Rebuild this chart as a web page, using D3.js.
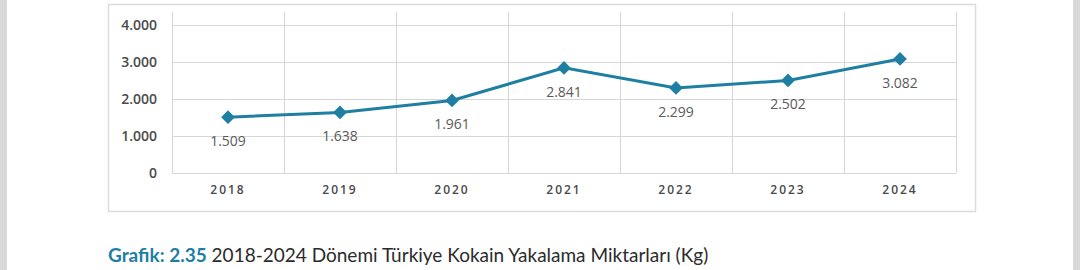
<!DOCTYPE html>
<html>
<head>
<meta charset="utf-8">
<script src="https://cdn.jsdelivr.net/npm/d3@7"></script>
<style>
  html, body { margin: 0; padding: 0; background: #fff; }
  body { width: 1080px; height: 270px; overflow: hidden; }
</style>
</head>
<body>
<svg id="chart"></svg>
<script>
const years = ["2018", "2019", "2020", "2021", "2022", "2023", "2024"];
const seizures = [1509, 1638, 1961, 2841, 2299, 2502, 3082];
const yTicks = [0, 1000, 2000, 3000, 4000];

const width = 1080;
const height = 270;
const margin = { top: 12, right: 124, bottom: 97, left: 172 };
const teal = "#1f7fa2";

const svg = d3.select("#chart").attr("width", width).attr("height", height);

// grey page edges
svg.append("rect").attr("x", 0).attr("y", 0).attr("width", 7).attr("height", height).attr("fill", "#d9d9d9");
svg.append("rect").attr("x", 1073).attr("y", 0).attr("width", 7).attr("height", height).attr("fill", "#d9d9d9");

// chart frame
svg.append("rect")
    .attr("x", 108.5).attr("y", 4.5)
    .attr("width", 867).attr("height", 207)
    .attr("fill", "#fff")
    .attr("stroke", "#dcdcdc")
    .attr("stroke-width", 1.5);

const x = d3.scaleBand()
    .domain(years)
    .range([margin.left, width - margin.right]);

const y = d3.scaleLinear()
    .domain([0, 4000])
    .range([height - margin.bottom, 25]);

const fmt = d => d3.format(",")(d).replace(/,/g, ".");

// grid
const grid = svg.append("g").attr("stroke", "#d6d6d6").attr("stroke-width", 1);
grid.selectAll("line.h")
    .data(yTicks)
    .join("line")
    .attr("class", "h")
    .attr("x1", margin.left).attr("x2", x.range()[1])
    .attr("y1", d => Math.round(y(d)) + 0.5).attr("y2", d => Math.round(y(d)) + 0.5);
grid.selectAll("line.v")
    .data(years.concat(["end"]))
    .join("line")
    .attr("class", "v")
    .attr("x1", (d, i) => Math.round(margin.left + i * x.bandwidth()) + 0.5)
    .attr("x2", (d, i) => Math.round(margin.left + i * x.bandwidth()) + 0.5)
    .attr("y1", margin.top).attr("y2", y(0));

// y axis
const yAxis = svg.append("g")
    .attr("transform", `translate(${margin.left - 12},0)`)
    .call(d3.axisLeft(y).tickValues(yTicks).tickSize(0).tickFormat(fmt));
yAxis.select(".domain").remove();
yAxis.selectAll("text")
    .attr("font-family", "'Open Sans', sans-serif")
    .attr("font-size", 14)
    .attr("font-weight", 600)
    .attr("fill", "#4a4a4a");

// x axis
const xAxis = svg.append("g")
    .attr("transform", `translate(0,${y(0)})`)
    .call(d3.axisBottom(x).tickSize(0).tickPadding(12));
xAxis.select(".domain").remove();
xAxis.selectAll("text")
    .attr("font-family", "'Open Sans', sans-serif")
    .attr("font-size", 12)
    .attr("font-weight", 600)
    .attr("letter-spacing", "2px")
    .attr("fill", "#4a4a4a");

const cx = d => x(d) + x.bandwidth() / 2;

// line
const line = d3.line()
    .x((d, i) => cx(years[i]))
    .y(d => y(d));
svg.append("path")
    .datum(seizures)
    .attr("d", line)
    .attr("fill", "none")
    .attr("stroke", teal)
    .attr("stroke-width", 3);

// markers
svg.append("g")
    .selectAll("path")
    .data(seizures)
    .join("path")
    .attr("d", d3.symbol(d3.symbolDiamond2, 120))
    .attr("transform", (d, i) => `translate(${cx(years[i])},${y(d)})`)
    .attr("fill", teal);

// value labels
svg.append("g")
    .selectAll("text")
    .data(seizures)
    .join("text")
    .attr("x", (d, i) => cx(years[i]))
    .attr("y", d => y(d) + 29)
    .attr("text-anchor", "middle")
    .attr("font-family", "'Open Sans', sans-serif")
    .attr("font-size", 14)
    .attr("fill", "#5a5a5a")
    .text(fmt);

// caption
const cap = svg.append("text")
    .attr("x", 108)
    .attr("y", 262)
    .attr("font-family", "Lato, sans-serif")
    .attr("font-size", 19)
    .attr("fill", "#2b2b2b");
cap.append("tspan").attr("fill", teal).attr("font-weight", 700).text("Grafik: 2.35");
cap.append("tspan").text(" 2018-2024 Dönemi Türkiye Kokain Yakalama Miktarları (Kg)");
</script>
</body>
</html>
